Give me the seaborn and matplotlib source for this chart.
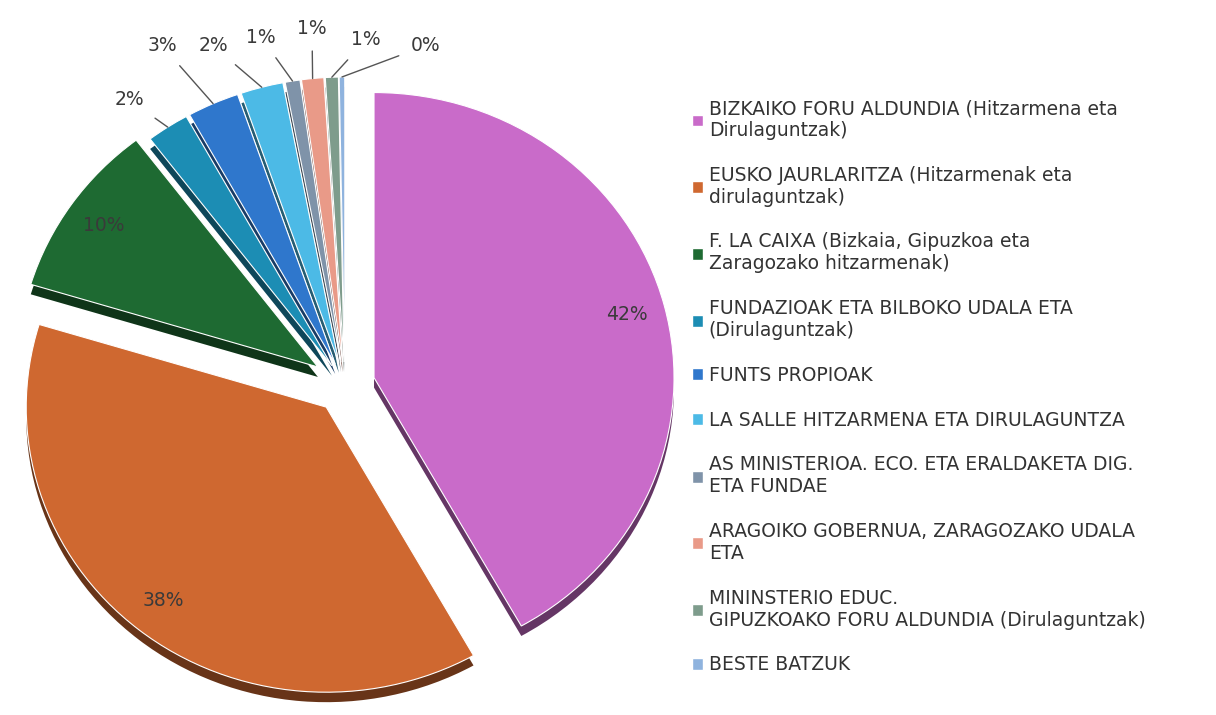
import matplotlib.pyplot as plt
import matplotlib.colors as mcolors
from matplotlib.patches import Patch
import numpy as np
import seaborn as sns

# Data
sources = [
    "BIZKAIKO FORU ALDUNDIA (Hitzarmena eta\nDirulaguntzak)",
    "EUSKO JAURLARITZA (Hitzarmenak eta\ndirulaguntzak)",
    "F. LA CAIXA (Bizkaia, Gipuzkoa eta\nZaragozako hitzarmenak)",
    "FUNDAZIOAK ETA BILBOKO UDALA ETA\n(Dirulaguntzak)",
    "FUNTS PROPIOAK",
    "LA SALLE HITZARMENA ETA DIRULAGUNTZA",
    "AS MINISTERIOA. ECO. ETA ERALDAKETA DIG.\nETA FUNDAE",
    "ARAGOIKO GOBERNUA, ZARAGOZAKO UDALA\nETA",
    "MININSTERIO EDUC.\nGIPUZKOAKO FORU ALDUNDIA (Dirulaguntzak)",
    "BESTE BATZUK",
]
shares = [42, 38, 10, 2.3, 2.8, 2.3, 0.8, 1.2, 0.7, 0.3]
colors = ['#C96BC9', '#CF6830', '#1E6A32', '#1C8DB4', '#2F77CC',
          '#4CBAE6', '#7F93A9', '#E99A88', '#7E9C8C', '#8FB3DE']

# Layout
explode = [0.10, 0.10, 0.11, 0.08, 0.08, 0.08, 0.08, 0.08, 0.08, 0.08]
small_label_pos = [(-0.72, 1.00), (-0.61, 1.19), (-0.44, 1.19), (-0.28, 1.22),
                   (-0.11, 1.25), (0.07, 1.21), (0.27, 1.19)]

sns.set_theme(style='white')
plt.rcParams['font.family'] = ['DejaVu Sans']

fig = plt.figure(figsize=(12.16, 7.15), dpi=100)
ax = fig.add_axes([0, 0, 690 / 1216, 1])

# darker copy underneath for a bit of depth
dark = [tuple(v * 0.5 for v in mcolors.to_rgb(c)) for c in colors]
ax.pie(shares, colors=dark, explode=explode, startangle=90, counterclock=False,
       center=(0, -0.035), wedgeprops=dict(linewidth=0))
wedges, _ = ax.pie(shares, colors=colors, explode=explode, startangle=90,
                   counterclock=False,
                   wedgeprops=dict(edgecolor='white', linewidth=0.8))

total = sum(shares)
pct = [f"{round(s / total * 100)}%" for s in shares]

for i, w in enumerate(wedges):
    mid = np.deg2rad((w.theta1 + w.theta2) / 2)
    cx, cy = w.center
    if i < 3:
        ax.text(cx + 0.87 * w.r * np.cos(mid), cy + 0.87 * w.r * np.sin(mid), pct[i],
                ha='center', va='center', fontsize=13.5, color='#3a3a3a')
    else:
        tx, ty = small_label_pos[i - 3]
        ax.annotate(pct[i], xy=(cx + w.r * np.cos(mid), cy + w.r * np.sin(mid)),
                    xytext=(tx, ty), ha='center', va='center', fontsize=13.5,
                    color='#3a3a3a',
                    arrowprops=dict(arrowstyle='-', color='#555555', lw=1,
                                    shrinkA=7, shrinkB=0))

ax.set_xlim(-1.15, 1.15)
ax.set_ylim(-1.158, 1.35)
ax.set_aspect('auto')
ax.axis('off')

handles = [Patch(facecolor=c, label=l) for c, l in zip(colors, sources)]
fig.legend(handles=handles, loc='upper left', bbox_to_anchor=(0.555, 0.885),
           frameon=False, fontsize=13.5, labelspacing=1.37, handlelength=0.6,
           handleheight=0.6, handletextpad=0.3, labelcolor='#333333')

fig.savefig('out.png', dpi=100)
